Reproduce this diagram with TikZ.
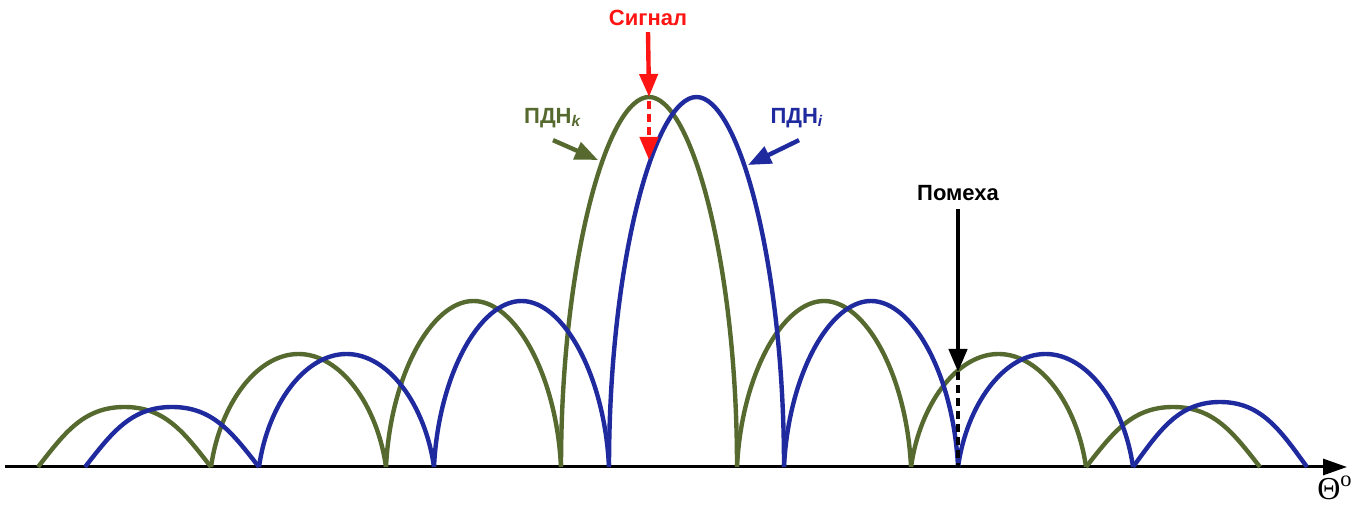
\documentclass[tikz,border=0pt]{standalone}
\usepackage{fontspec}
\setmainfont{Liberation Sans}
\newfontfamily\thetafont{Liberation Serif}
\usetikzlibrary{arrows.meta}
\definecolor{PatGreen}{HTML}{56692E}
\definecolor{PatBlue}{HTML}{1E2A9E}
\definecolor{SigRed}{HTML}{FF1414}

\begin{document}
\begin{tikzpicture}[x=0.5pt, y=-0.5pt,
  lobe/.style={line width=2.2pt},
  tag/.style={font=\fontsize{11}{13}\selectfont\bfseries, inner sep=1pt},
  pointer/.style={line width=2.2pt, -{Triangle[length=11.5pt, width=9pt]}},
  dashline/.style={line width=2.2pt, dash pattern=on 4pt off 2.5pt}
]
\useasboundingbox (0,0) rectangle (1368,506);

% Axis
\coordinate (axstart) at (5,467);
\coordinate (axend) at (1347,467);
\draw[line width=1.5pt, -{Triangle[length=12pt, width=8pt]}] (axstart) -- (axend);
\node[font=\thetafont\fontsize{16}{18}\selectfont, inner sep=0pt] (theta) at (1335,488) {Θ\textsuperscript{o}};

% Lobes: left zero / right zero / peak / first control offset
\foreach \clr/\lst in {PatGreen/{38/211/407/0.3, 211/386/354/0.1, 386/561/301/0.05, 561/737/97/0,
                                 737/911/301/0.05, 911/1086/354/0.1, 1086/1260/407/0.3},
                       PatBlue/{85/259/407/0.3, 259/434/354/0.1, 434/609/301/0.05, 609/784/97/0,
                                784/958/301/0.05, 958/1133/354/0.1, 1133/1307/402/0.3}} {
  \foreach \a/\b/\p/\s in \lst {
    \pgfmathsetmacro{\w}{(\b-\a)/2}
    \pgfmathsetmacro{\m}{\a+\w}
    \pgfmathsetmacro{\cy}{467-0.55*(467-\p)}
    \pgfmathsetmacro{\xa}{\a+\s*\w}
    \pgfmathsetmacro{\xb}{\m-0.48*\w}
    \pgfmathsetmacro{\xc}{\m+0.48*\w}
    \pgfmathsetmacro{\xd}{\b-\s*\w}
    \draw[lobe, \clr] (\a,467) .. controls (\xa,\cy) and (\xb,\p) .. (\m,\p)
      .. controls (\xc,\p) and (\xd,\cy) .. (\b,467);
  }
}

% Signal
\node[tag, text=SigRed] (sig) at (648,18) {Сигнал};
\coordinate (sigtip) at (649,97);
\coordinate (sigdash) at (649,101);
\coordinate (sigend) at (649,160);
\draw[pointer, SigRed] ([yshift=-2pt]sig.south) -- (sigtip);
\draw[pointer, SigRed, dash pattern=on 4pt off 2.5pt] (sigdash) -- (sigend);

% Pattern labels
\node[tag, text=PatGreen] (pdnk) at (553,118) {ПДН\textsubscript{\textit{k}}};
\coordinate (ktip) at (598,160);
\draw[pointer, PatGreen] ([yshift=-5pt]pdnk.south) -- (ktip);

\node[tag, text=PatBlue] (pdni) at (797,118) {ПДН\textsubscript{\textit{i}}};
\coordinate (itip) at (748,165);
\draw[pointer, PatBlue] ([xshift=1pt, yshift=-5pt]pdni.south) -- (itip);

% Interference
\node[tag] (pom) at (958,193) {Помеха};
\coordinate (pomtip) at (958,372);
\coordinate (pombase) at (958,467);
\draw[pointer] ([yshift=-3pt]pom.south) -- (pomtip);
\draw[dashline] (pomtip) -- (pombase);
\end{tikzpicture}
\end{document}
